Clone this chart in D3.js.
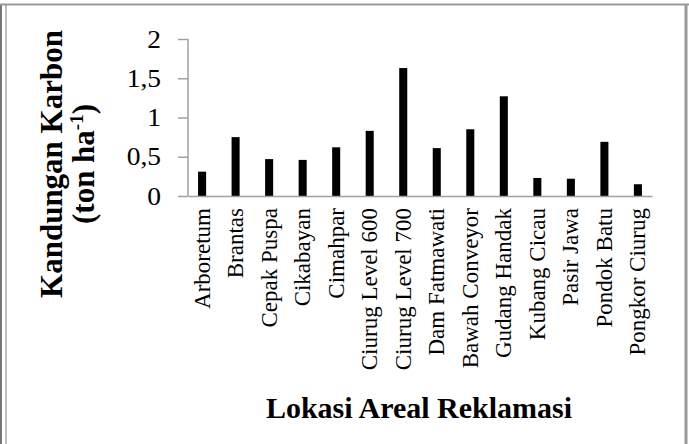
<!DOCTYPE html>
<html>
<head>
<meta charset="utf-8">
<script src="https://cdn.jsdelivr.net/npm/d3@7"></script>
<style>
  body { margin: 0; background: #fff; }
  svg { display: block; font-family: "Liberation Serif", "Times New Roman", serif; }
</style>
</head>
<body>
<svg id="chart" width="689" height="444"></svg>
<script>
// data
const lokasi = ["Arboretum", "Brantas", "Cepak Puspa", "Cikabayan", "Cimahpar",
  "Ciurug Level 600", "Ciurug Level 700", "Dam Fatmawati", "Bawah Conveyor",
  "Gudang Handak", "Kubang Cicau", "Pasir Jawa", "Pondok Batu", "Pongkor Ciurug"];
const karbon = [0.31, 0.75, 0.47, 0.46, 0.62, 0.83, 1.63, 0.61, 0.85, 1.27, 0.23, 0.22, 0.69, 0.15];
const yTicks = [0, 0.5, 1, 1.5, 2];
const yTickLabels = ["0", "0,5", "1", "1,5", "2"];

const svg = d3.select("#chart");
const axisColor = "#a0a0a0";

// frame around the picture
svg.append("line").attr("x1", 1).attr("x2", 1).attr("y1", 4).attr("y2", 444)
  .attr("stroke", "#777").attr("stroke-width", 2);
svg.append("line").attr("x1", 6).attr("x2", 6).attr("y1", 4).attr("y2", 444)
  .attr("stroke", "#aaa").attr("stroke-width", 1.5);
svg.append("line").attr("x1", 0).attr("x2", 689).attr("y1", 4.5).attr("y2", 4.5)
  .attr("stroke", "#999").attr("stroke-width", 2);
svg.append("line").attr("x1", 686).attr("x2", 686).attr("y1", 4).attr("y2", 444)
  .attr("stroke", "#999").attr("stroke-width", 3);

const x = d3.scaleBand()
  .domain(lokasi)
  .range([188, 652])
  .paddingInner(0.76)
  .paddingOuter(0.3);

const y = d3.scaleLinear()
  .domain([0, 2])
  .range([196, 39]);

// bars
svg.selectAll("rect.bar")
  .data(lokasi)
  .join("rect")
    .attr("class", "bar")
    .attr("x", d => x(d))
    .attr("y", (d, i) => y(karbon[i]))
    .attr("width", x.bandwidth())
    .attr("height", (d, i) => y(0) - y(karbon[i]))
    .attr("fill", "#000");

// y axis
const yAxis = svg.append("g")
  .attr("transform", "translate(188,0)")
  .call(d3.axisLeft(y).tickValues(yTicks).tickSize(10).tickPadding(17)
    .tickFormat((d, i) => yTickLabels[i]));
yAxis.select(".domain").attr("stroke", axisColor).attr("stroke-width", 1.5)
  .attr("d", `M0,${y(2)}V${y(0)}`);
yAxis.selectAll(".tick line").attr("stroke", axisColor).attr("stroke-width", 1.5);
// the reference text is a bit stretched sideways
yAxis.selectAll(".tick text")
  .attr("font-family", "Liberation Serif, serif")
  .attr("font-size", 25)
  .attr("fill", "#000")
  .attr("x", -27 / 1.1)
  .attr("transform", "scale(1.1,1)");

// x axis
const xAxis = svg.append("g")
  .attr("transform", `translate(0,${y(0)})`)
  .call(d3.axisBottom(x).tickSize(0).tickPadding(0));
xAxis.select(".domain").attr("stroke", axisColor).attr("stroke-width", 1.5);
xAxis.selectAll(".tick text")
  .attr("font-family", "Liberation Serif, serif")
  .attr("font-size", 23)
  .attr("fill", "#000")
  .attr("text-anchor", "end")
  .attr("dy", null)
  .attr("y", 0)
  .attr("dominant-baseline", "central")
  .attr("transform", "translate(0,12) rotate(-90)");

// axis titles
const yt = svg.append("text")
  .attr("transform", "translate(62,164) rotate(-90)")
  .attr("text-anchor", "middle")
  .attr("font-weight", "bold")
  .attr("font-size", 31);
yt.append("tspan").attr("x", 0).attr("y", 0).text("Kandungan Karbon");
const yt2 = yt.append("tspan").attr("x", 0).attr("y", 32).text("(ton ha");
yt2.append("tspan").attr("dy", -11).attr("font-size", 19).text("-1");
yt.append("tspan").attr("dy", 11).text(")");

svg.append("text")
  .attr("x", 419)
  .attr("y", 418)
  .attr("text-anchor", "middle")
  .attr("font-weight", "bold")
  .attr("font-size", 30)
  .text("Lokasi Areal Reklamasi");
</script>
</body>
</html>
